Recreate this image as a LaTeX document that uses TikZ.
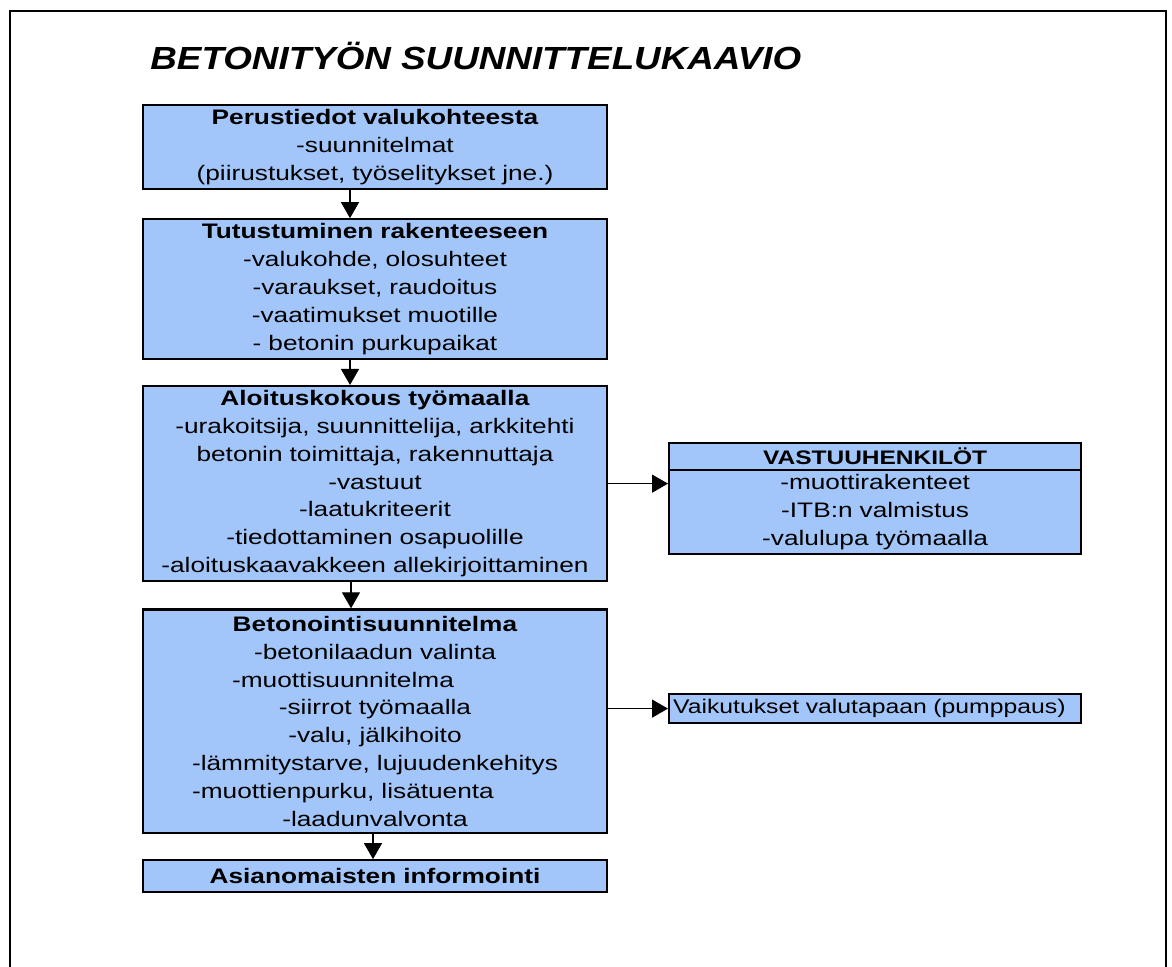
\documentclass[tikz,border=0pt]{standalone}
\usepackage{fontspec}
\setmainfont{Liberation Sans}[FakeStretch=1.25]
\newfontfamily\titlefont{Liberation Sans}[FakeStretch=1.15]
\usetikzlibrary{positioning,arrows.meta}
\definecolor{boxblue}{RGB}{163,198,250}
\tikzset{
  box/.style={draw, line width=1.1pt, fill=boxblue, text width=228pt, align=center,
    inner xsep=2pt, inner ysep=2.2pt, font=\fontsize{10.5}{13.9}\selectfont},
  sidebox/.style={box, text width=202pt},
  arr/.style={-{Triangle[width=9pt,length=8pt]}, line width=0.6pt},
}

\begin{document}
\begin{tikzpicture}[x=0.5pt,y=-0.5pt]
\useasboundingbox (0,0) rectangle (1172,967);
\draw[line width=0.8pt] (10,967) -- (10,11) -- (1166,11) -- (1166,967);
\node[anchor=base west, inner sep=0pt, font=\titlefont\fontsize{16}{19}\selectfont\bfseries\itshape] (title) at (150,70)
  {BETONITYÖN SUUNNITTELUKAAVIO};

% main column
\node[box, anchor=north] (perus) at (375,104)
  {\textbf{Perustiedot valukohteesta}\\-suunnitelmat\\(piirustukset, työselitykset jne.)};
\node[box, below=14pt of perus] (tutus)
  {\textbf{Tutustuminen rakenteeseen}\\-valukohde, olosuhteet\\-varaukset, raudoitus\\
   -vaatimukset muotille\\- betonin purkupaikat};
\node[box, below=12.5pt of tutus] (aloit)
  {\textbf{Aloituskokous työmaalla}\\-urakoitsija, suunnittelija, arkkitehti\\
   betonin toimittaja, rakennuttaja\\-vastuut\\-laatukriteerit\\
   -tiedottaminen osapuolille\\-aloituskaavakkeen allekirjoittaminen};
\node[box, below=13pt of aloit, inner ysep=3.4pt] (suunn)
  {\textbf{Betonointisuunnitelma}\\-betonilaadun valinta\\-muottisuunnitelma\kern32pt\\
   -siirrot työmaalla\\-valu, jälkihoito\\-lämmitystarve, lujuudenkehitys\\
   -muottienpurku, lisätuenta\kern32pt\\-laadunvalvonta};
\node[box, below=12.5pt of suunn, minimum height=16pt, inner ysep=0pt] (asian)
  {\textbf{Asianomaisten informointi}};

% side boxes
\node[sidebox, anchor=north west, minimum height=13.5pt, inner ysep=0pt,
  font=\fontsize{9.8}{13.9}\selectfont] (vhead) at (668,442)
  {\textbf{VASTUUHENKILÖT}};
\node[sidebox, below=-1.1pt of vhead] (vbody)
  {-muottirakenteet\\-ITB:n valmistus\\-valulupa työmaalla};
\node[sidebox, align=left, anchor=north west, minimum height=14.5pt, inner ysep=0pt,
  font=\fontsize{9.9}{13.9}\selectfont] (vaik) at (668,693)
  {\mbox{Vaikutukset valutapaan (pumppaus)}};

% connectors
\draw[arr] ([xshift=-12.5pt]perus.south) -- ([xshift=-12.5pt]tutus.north);
\draw[arr] ([xshift=-12.5pt]tutus.south) -- ([xshift=-12.5pt]aloit.north);
\draw[arr] ([xshift=-12pt]aloit.south) -- ([xshift=-12pt]suunn.north);
\draw[arr] ([xshift=-1pt]suunn.south) -- ([xshift=-1pt]asian.north);
\draw[arr] (aloit.east) -- (aloit.east -| vbody.west);
\draw[arr] (vaik.west -| suunn.east) -- (vaik.west);
\end{tikzpicture}
\end{document}
